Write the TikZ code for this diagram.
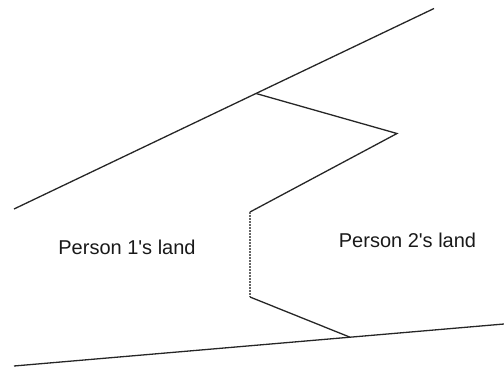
\documentclass[tikz,border=0pt]{standalone}
\usepackage{fontspec}
\setmainfont{Liberation Sans}
\begin{document}
\begin{tikzpicture}[x=1pt,y=-1pt,
  edge/.style={line width=1.3pt, draw=black!85},
  dotedge/.style={line width=1.1pt, draw=black!60, dash pattern=on 1.5pt off 1.5pt},
  lbl/.style={font=\fontsize{20}{24}\selectfont, text=black!90, inner sep=0pt}]
\useasboundingbox (0,0) rectangle (504,370);
\coordinate (t1) at (14,209);
\coordinate (t2) at (434,8.5);
\coordinate (b1) at (14,366);
\coordinate (b2) at (504,324);
\coordinate (p1) at (256,93.5);
\coordinate (p2) at (397,133.5);
\coordinate (p3) at (250,212);
\coordinate (p4) at (250,297);
\coordinate (p5) at (350,337.2);
\draw[edge] (t1) -- (t2);
\draw[edge] (b1) -- (b2);
\draw[edge] (p1) -- (p2) -- (p3);
\draw[dotedge] (p3) -- (p4);
\draw[edge] (p4) -- (p5);
\node[lbl] (l1) at (127,247.5) {Person 1\textquotesingle s land};
\node[lbl] (l2) at (407.5,240.5) {Person 2\textquotesingle s land};
\end{tikzpicture}
\end{document}
